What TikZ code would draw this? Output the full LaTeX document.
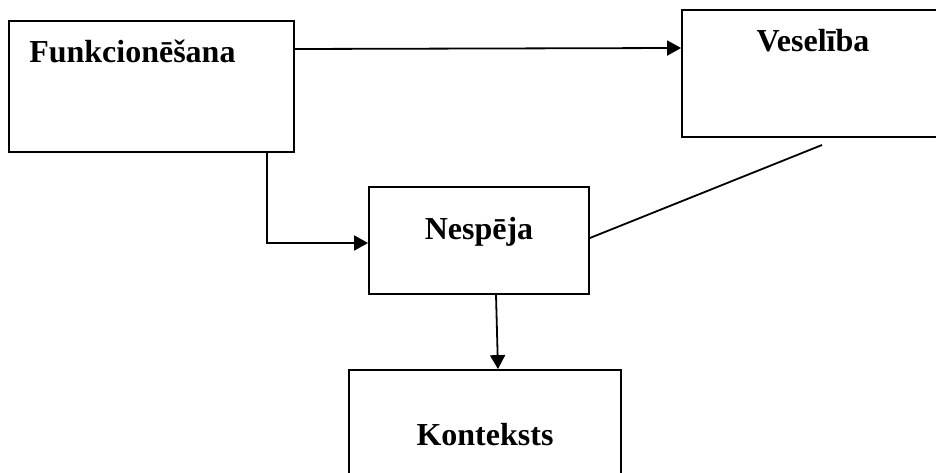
\documentclass[tikz,border=0pt]{standalone}
\usepackage{fontspec}
\setmainfont{Liberation Serif}
\usetikzlibrary{arrows.meta}
\tikzset{
  blk/.style={ draw, line width=1.8pt, inner sep=0pt }
}
\tikzset{
  txt/.style={ inner sep=0pt, font=\fontsize{32}{38}\selectfont\bfseries }
}
\tikzset{
  arr/.style={ line width=1.8pt, -{Triangle[length=14pt, width=15pt]} }
}

\begin{document}
\begin{tikzpicture}[x=1pt, y=-1pt]
      \useasboundingbox (0, 0) rectangle (936, 473);
      \clip (0, 0) rectangle (936, 473);
      \node[blk, minimum width=285pt, minimum height=131pt,
        label={[txt, xshift=-19pt, yshift=35.5pt]center:Funkcionēšana}] (fun) at (151.4, 86.5) {};
      \node[blk, minimum width=278pt, minimum height=127pt,
        label={[txt, xshift=-8pt, yshift=32.5pt]center:Veselība}] (ves) at (821, 73.5) {};
      \node[blk, minimum width=220pt, minimum height=107pt,
        label={[txt, yshift=9pt]center:Nespēja}] (nes) at (479, 240.5) {};
      \node[blk, minimum width=272pt, minimum height=130pt,
        label={[txt]center:Konteksts}] (kon) at (485, 435) {};
      \coordinate (vesgap) at (822, 145);
      \draw[arr] (fun.east |- 0, 49) -- (ves.west |- 0, 48);
      \draw[arr] (fun.south -| 267, 0) |- (nes.west |- 0, 243);
      \draw[line width=1.8pt] (nes.east |- 0, 238) -- (vesgap);
      \draw[arr] (nes.south -| 496, 0) -- (kon.north -| 498, 0);
    \end{tikzpicture}
\end{document}
